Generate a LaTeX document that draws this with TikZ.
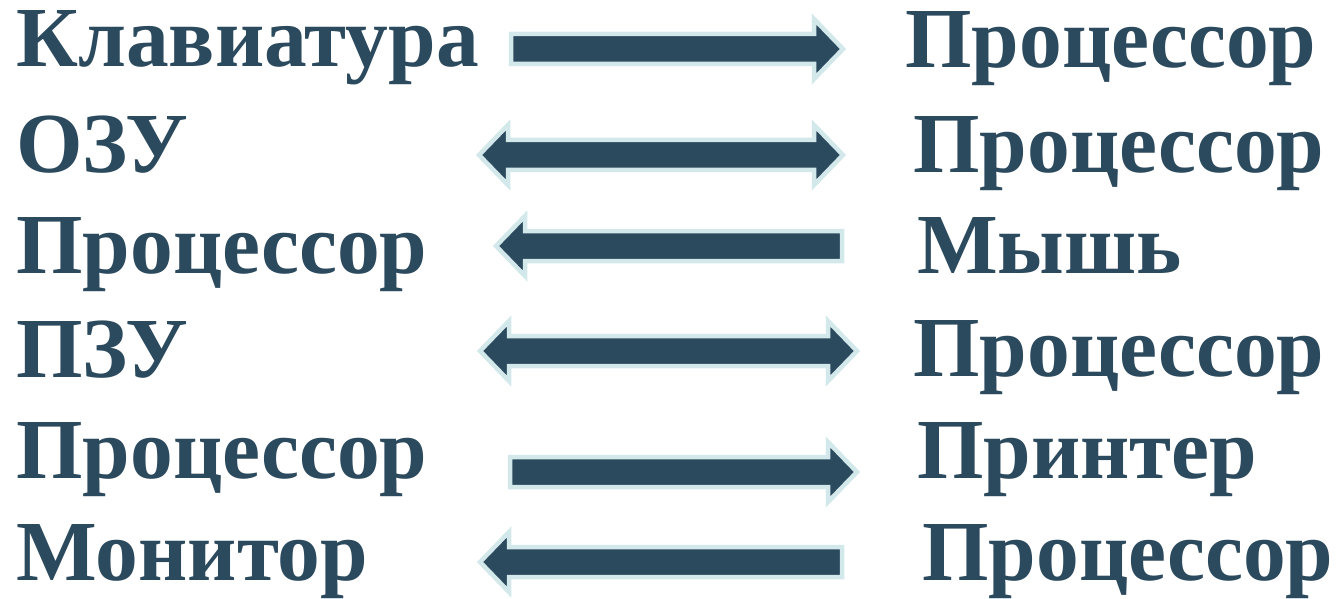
\documentclass[tikz,border=0pt]{standalone}
\usepackage{fontspec}
\setmainfont{Liberation Serif}
\definecolor{ink}{RGB}{44,74,94}
\definecolor{rim}{RGB}{210,232,234}
\tikzset{
  word/.style={anchor=base west, inner sep=0pt, text=ink, font=\fontsize{85.5}{85.5}\selectfont\bfseries},
  blk/.style={fill=ink, draw=rim, line width=4.5pt, line join=miter}
}
% right arrow: x1 x2 y
\newcommand\arrR[3]{\draw[blk] (#1,#3-15) -- (#2-29,#3-15) -- (#2-29,#3-30) -- (#2,#3) -- (#2-29,#3+30) -- (#2-29,#3+15) -- (#1,#3+15) -- cycle;}
% left arrow: x1(tip) x2 y
\newcommand\arrL[3]{\draw[blk] (#2,#3-15) -- (#1+29,#3-15) -- (#1+29,#3-30) -- (#1,#3) -- (#1+29,#3+30) -- (#1+29,#3+15) -- (#2,#3+15) -- cycle;}
% double arrow
\newcommand\arrD[3]{\draw[blk] (#1+29,#3-15) -- (#2-29,#3-15) -- (#2-29,#3-30) -- (#2,#3) -- (#2-29,#3+30) -- (#2-29,#3+15) -- (#1+29,#3+15) -- (#1+29,#3+30) -- (#1,#3) -- (#1+29,#3-30) -- cycle;}
\begin{document}
\begin{tikzpicture}[x=1pt,y=-1pt]
\useasboundingbox (0,0) rectangle (1339,599);
% left column
\node[word] (l1) at (16,67) {Клавиатура};
\node[word] (l2) at (16,172) {ОЗУ};
\node[word] (l3) at (16,273) {Процессор};
\node[word] (l4) at (16,377) {ПЗУ};
\node[word] (l5) at (16,478) {Процессор};
\node[word] (l6) at (16,580) {Монитор};
% right column
\node[word] (r1) at (905,68) {Процессор};
\node[word] (r2) at (913,172) {Процессор};
\node[word] (r3) at (917,273) {Мышь};
\node[word] (r4) at (913,376) {Процессор};
\node[word] (r5) at (917,478) {Принтер};
\node[word] (r6) at (922,580) {Процессор};
% arrows
\arrR{511}{843}{49}
\arrD{479}{843}{155}
\arrL{496}{842}{246}
\arrD{480}{857}{351}
\arrR{510}{857}{472}
\arrL{480}{842}{562}
\end{tikzpicture}
\end{document}
